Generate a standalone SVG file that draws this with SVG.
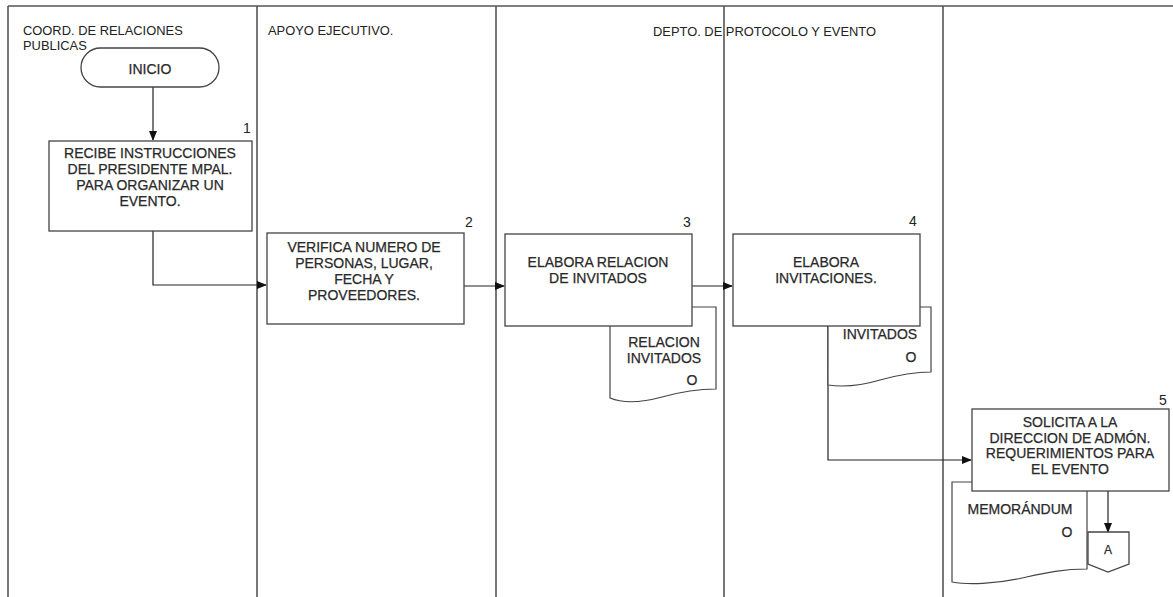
<svg xmlns="http://www.w3.org/2000/svg" width="1173" height="597" viewBox="0 0 1173 597">
<style>
.lane{stroke:#555;stroke-width:1.6;fill:none}
.box{fill:#fff;stroke:#444;stroke-width:1.3}
.doc{fill:#fff;stroke:#444;stroke-width:1.2}
.t{font-family:"Liberation Sans",Arial,sans-serif;font-size:14px;fill:#2a2a2a;text-anchor:middle;stroke:#2a2a2a;stroke-width:0.25}
.h{font-family:"Liberation Sans",Arial,sans-serif;font-size:12.9px;fill:#222}
.n{font-family:"Liberation Sans",Arial,sans-serif;font-size:14px;fill:#222;text-anchor:middle}
.c{stroke:#222;stroke-width:1.2;fill:none;marker-end:url(#ah)}
</style>
<defs>
<marker id="ah" markerWidth="10" markerHeight="10" refX="9" refY="5" orient="auto" markerUnits="userSpaceOnUse">
<path d="M0,1 L10,5 L0,9 Z" fill="#111"/>
</marker>
</defs>
<rect width="1173" height="597" fill="#fff"/>
<g id="lanes">
<line class="lane" x1="8" y1="6" x2="1173" y2="6"/>
<line class="lane" x1="8" y1="6" x2="8" y2="597"/>
<line class="lane" x1="257" y1="6" x2="257" y2="597"/>
<line class="lane" x1="496" y1="6" x2="496" y2="597"/>
<line class="lane" x1="724" y1="6" x2="724" y2="597"/>
<line class="lane" x1="943" y1="6" x2="943" y2="597"/>
<text class="h" x="23" y="35">COORD. DE RELACIONES</text>
<text class="h" x="23" y="50">PUBLICAS</text>
<text class="h" x="268" y="35">APOYO EJECUTIVO.</text>
<text class="h" x="653" y="36">DEPTO. DE PROTOCOLO Y EVENTO</text>
</g>
<g id="connectors">
<path class="c" d="M153,87 V140"/>
<path class="c" d="M153,231 V285 H266"/>
<path class="c" d="M464,286 H504"/>
<path class="c" d="M692,286 H732"/>
<path class="c" d="M828,326 V460 H971"/>
<path class="c" d="M1108,491 V532"/>
</g>
<g id="inicio">
<rect class="box" x="81" y="48" width="138" height="39" rx="19.5"/>
<text class="t" x="150" y="74">INICIO</text>
</g>
<g id="step1">
<rect class="box" x="49" y="141" width="203" height="90"/>
<text class="n" x="247" y="133">1</text>
<text class="t" x="150" y="158">RECIBE INSTRUCCIONES</text>
<text class="t" x="150" y="174">DEL PRESIDENTE MPAL.</text>
<text class="t" x="150" y="190">PARA ORGANIZAR UN</text>
<text class="t" x="150" y="206">EVENTO.</text>
</g>
<g id="step2">
<rect class="box" x="267" y="233" width="197" height="91"/>
<text class="n" x="469" y="227">2</text>
<text class="t" x="364" y="252">VERIFICA NUMERO DE</text>
<text class="t" x="364" y="268">PERSONAS, LUGAR,</text>
<text class="t" x="364" y="284">FECHA Y</text>
<text class="t" x="364" y="300">PROVEEDORES.</text>
</g>
<g id="doc3">
<path class="doc" d="M610,307 H716 V389 C695,389 680,392 662,397 C640,403 622,403 610,398 Z"/>
<text class="t" x="664" y="347">RELACION</text>
<text class="t" x="664" y="363">INVITADOS</text>
<text class="t" x="692" y="385">O</text>
</g>
<g id="step3">
<rect class="box" x="505" y="234" width="187" height="92"/>
<text class="n" x="687" y="227">3</text>
<text class="t" x="598" y="267">ELABORA RELACION</text>
<text class="t" x="598" y="283">DE INVITADOS</text>
</g>
<g id="doc4">
<path class="doc" d="M828,307 H931 V372 C912,372 898,375 880,380 C860,386 842,387 828,385 Z"/>
<text class="t" x="880" y="339">INVITADOS</text>
<text class="t" x="911" y="362">O</text>
</g>
<g id="step4">
<rect class="box" x="733" y="234" width="187" height="92"/>
<text class="n" x="913" y="226">4</text>
<text class="t" x="826" y="267">ELABORA</text>
<text class="t" x="826" y="283">INVITACIONES.</text>
</g>
<g id="doc5">
<path class="doc" d="M952,482 H1087 V569 C1062,569 1045,573 1022,578 C995,584 968,585 952,582 Z"/>
<text class="t" x="1020" y="514">MEMORÁNDUM</text>
<text class="t" x="1067" y="537">O</text>
</g>
<g id="step5">
<rect class="box" x="972" y="409" width="197" height="82"/>
<text class="n" x="1163" y="405">5</text>
<text class="t" x="1070" y="427">SOLICITA A LA</text>
<text class="t" x="1070" y="443">DIRECCION DE ADMÓN.</text>
<text class="t" x="1070" y="458">REQUERIMIENTOS PARA</text>
<text class="t" x="1070" y="474">EL EVENTO</text>
</g>
<g id="offpageA">
<path class="box" d="M1088,532 H1129 V564 L1108,572 L1088,564 Z"/>
<text class="t" x="1108" y="554" style="font-size:12px">A</text>
</g>
</svg>
